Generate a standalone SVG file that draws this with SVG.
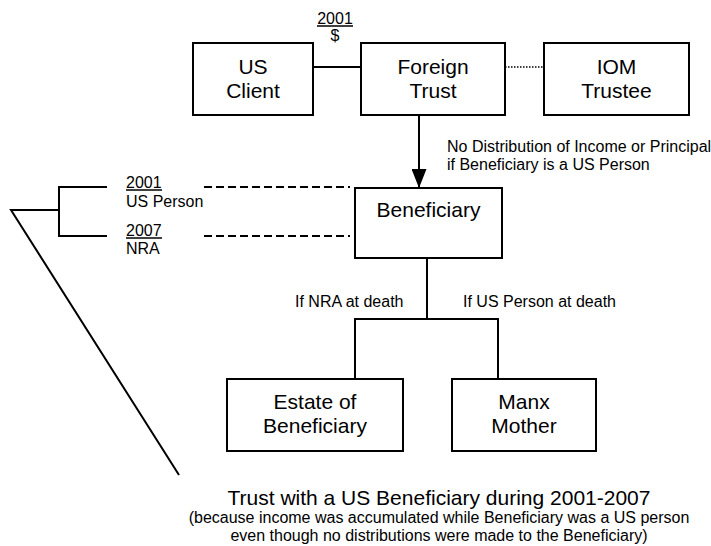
<svg xmlns="http://www.w3.org/2000/svg" width="711" height="546" viewBox="0 0 711 546">
<style>
.box{fill:#fff;stroke:#000;stroke-width:2}
.ln{fill:none;stroke:#000;stroke-width:2}
.bt{font-family:"Liberation Sans",Arial,sans-serif;font-size:21px;fill:#000;text-anchor:middle}
.lb{font-family:"Liberation Sans",Arial,sans-serif;font-size:16px;fill:#000}
.mid{text-anchor:middle}
</style>
<defs>
<marker id="arr" markerWidth="19" markerHeight="15" refX="19" refY="7.5" orient="auto" markerUnits="userSpaceOnUse">
<path d="M0,0 L19,7.5 L0,15 Z" fill="#000"/>
</marker>
</defs>
<rect width="711" height="546" fill="#fff"/>
<g id="connectors">
<line class="ln" x1="313" y1="67" x2="361" y2="67"/>
<line x1="505" y1="67" x2="544" y2="67" stroke="#000" stroke-width="1.5" stroke-dasharray="1.5 1.5"/>
<line class="ln" x1="419" y1="115" x2="419" y2="188" marker-end="url(#arr)"/>
<line class="ln" x1="204" y1="187" x2="350" y2="187" stroke-dasharray="8 4"/>
<line class="ln" x1="204" y1="236" x2="350" y2="236" stroke-dasharray="8 4"/>
<path class="ln" d="M107,187 H59 V236 H107 M59,210 H11 L179,475"/>
<path class="ln" d="M427,258 V319 M355,379 V319 H498 V379"/>
</g>
<g id="us-client">
<rect class="box" x="193" y="43" width="120" height="72"/>
<text class="bt" x="253" y="74">US</text>
<text class="bt" x="253" y="98">Client</text>
</g>
<g id="foreign-trust">
<rect class="box" x="361" y="43" width="144" height="72"/>
<text class="bt" x="433" y="74">Foreign</text>
<text class="bt" x="433" y="98">Trust</text>
</g>
<g id="iom-trustee">
<rect class="box" x="544" y="43" width="145" height="72"/>
<text class="bt" x="616.5" y="74">IOM</text>
<text class="bt" x="616.5" y="98">Trustee</text>
</g>
<g id="beneficiary">
<rect class="box" x="355" y="188" width="147" height="70"/>
<text class="bt" x="428.5" y="217">Beneficiary</text>
</g>
<g id="estate">
<rect class="box" x="227" y="379" width="176" height="72"/>
<text class="bt" x="315" y="409">Estate of</text>
<text class="bt" x="315" y="433">Beneficiary</text>
</g>
<g id="manx-mother">
<rect class="box" x="452" y="379" width="144" height="72"/>
<text class="bt" x="524" y="409">Manx</text>
<text class="bt" x="524" y="433">Mother</text>
</g>
<g id="labels">
<text class="lb mid" x="335" y="24">2001</text>
<line x1="317" y1="26" x2="353" y2="26" stroke="#000" stroke-width="1.5"/>
<text class="lb mid" x="335" y="41">$</text>
<text class="lb" x="447" y="152">No Distribution of Income or Principal</text>
<text class="lb" x="447" y="170">if Beneficiary is a US Person</text>
<text class="lb" x="126" y="188">2001</text>
<line x1="126" y1="190" x2="162" y2="190" stroke="#000" stroke-width="1.5"/>
<text class="lb" x="126" y="207">US Person</text>
<text class="lb" x="126" y="236">2007</text>
<line x1="126" y1="238" x2="162" y2="238" stroke="#000" stroke-width="1.5"/>
<text class="lb" x="126" y="254">NRA</text>
<text class="lb" x="295" y="307">If NRA at death</text>
<text class="lb" x="463" y="307">If US Person at death</text>
<text class="bt" x="439" y="505">Trust with a US Beneficiary during 2001-2007</text>
<text class="lb mid" x="439" y="523">(because income was accumulated while Beneficiary was a US person</text>
<text class="lb mid" x="439" y="541">even though no distributions were made to the Beneficiary)</text>
</g>
</svg>
